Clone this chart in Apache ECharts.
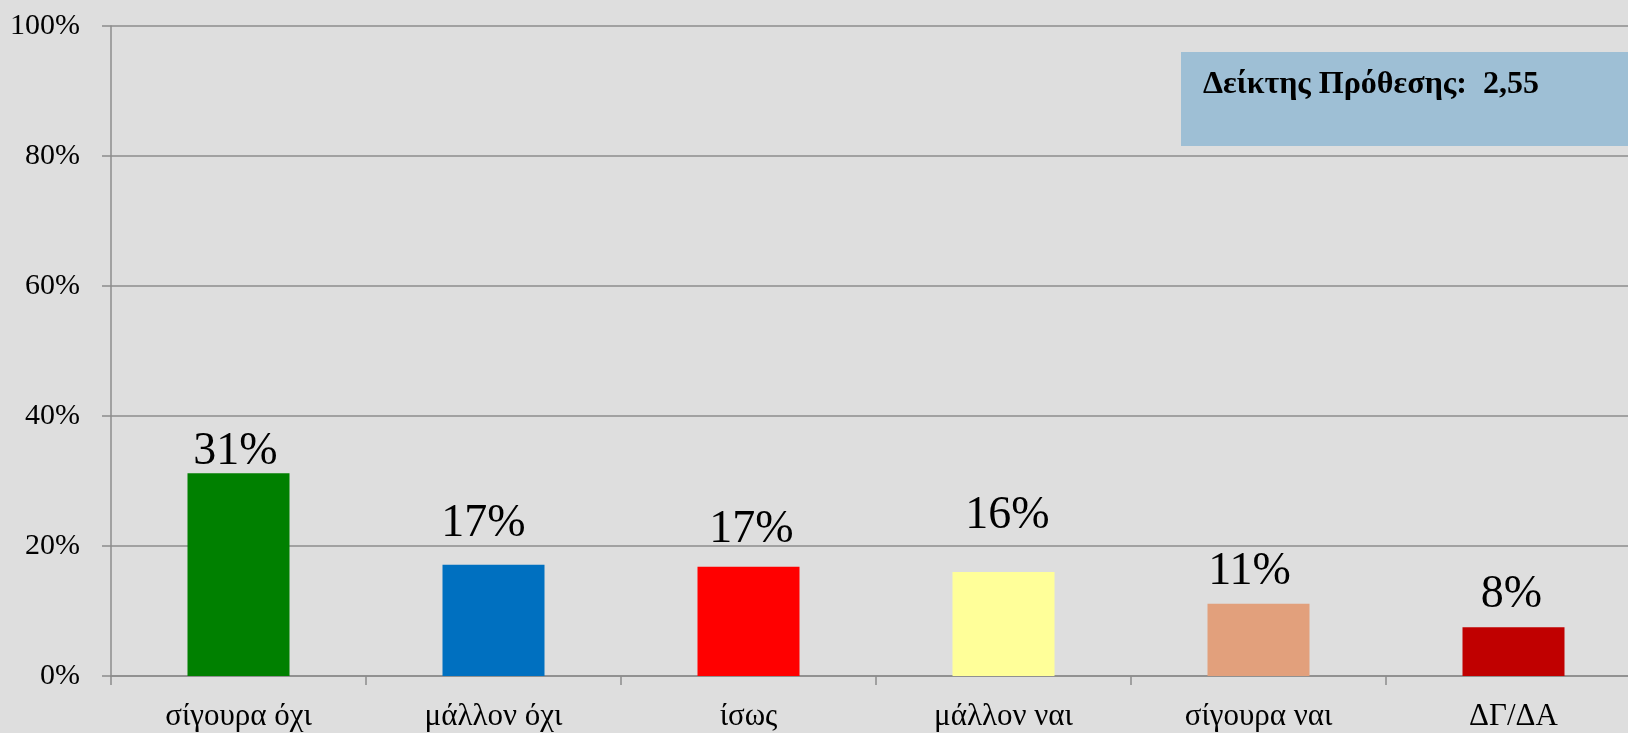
<!DOCTYPE html>
<html>
<head>
<meta charset="utf-8">
<script src="https://cdn.jsdelivr.net/npm/echarts@6/dist/echarts.min.js"></script>
<style>
  html, body { margin: 0; padding: 0; background: #dedede; }
  #chart { width: 1628px; height: 733px; }
</style>
</head>
<body>
<div id="chart"></div>
<script>
const categories = ["σίγουρα όχι", "μάλλον όχι", "ίσως", "μάλλον ναι", "σίγουρα ναι", "ΔΓ/ΔΑ"];
const shares = [31.2, 17.1, 16.8, 16.0, 11.1, 7.5];
const barColors = ["#008000", "#0070c0", "#ff0000", "#ffff99", "#e2a07c", "#c00000"];
const yTicks = [0, 20, 40, 60, 80, 100];
const indexLabel = "Δείκτης Πρόθεσης:  2,55";

// hand-placed label nudges from the original sheet [dx, dy]
const labelNudge = [[-3, 2], [-10, -18], [3, -14], [4, -33], [-9, -9], [-2, -9]];

const serif = '"Liberation Serif", "DejaVu Serif", serif';
const chart = echarts.init(document.getElementById("chart"));

chart.setOption({
  backgroundColor: "#dedede",
  animation: false,
  grid: { left: 111, right: -13, top: 26, bottom: 57, outerBoundsMode: "none" },
  xAxis: {
    type: "category",
    data: categories,
    axisLine: { lineStyle: { color: "#8c8c8c", width: 1.5 } },
    axisTick: { show: true, length: 9, lineStyle: { color: "#8c8c8c", width: 1.5 } },
    axisLabel: { color: "#000", fontFamily: serif, fontSize: 31, margin: 25 }
  },
  yAxis: {
    type: "value",
    min: yTicks[0],
    max: yTicks[yTicks.length - 1],
    interval: 20,
    axisLine: { show: true, lineStyle: { color: "#8c8c8c", width: 1.5 } },
    axisTick: { show: true, length: 9, lineStyle: { color: "#8c8c8c", width: 1.5 } },
    splitLine: { lineStyle: { color: "#8c8c8c", width: 1.5 } },
    axisLabel: { color: "#000", fontFamily: serif, fontSize: 30, margin: 31, formatter: "{value}%" }
  },
  series: [{
    type: "bar",
    barWidth: "40%",
    data: shares.map((v, i) => ({
      value: v,
      itemStyle: { color: barColors[i] },
      label: { offset: labelNudge[i] }
    })),
    label: {
      show: true,
      position: "top",
      distance: 0,
      color: "#000",
      fontFamily: serif,
      fontSize: 46,
      formatter: p => Math.round(p.value) + "%"
    }
  }],
  graphic: [{
    type: "rect",
    shape: { x: 1181, y: 52, width: 460, height: 94 },
    style: { fill: "#9ebfd5" }
  }, {
    type: "text",
    x: 1203,
    y: 101,
    style: {
      text: indexLabel,
      font: "bold 32px " + serif,
      fill: "#000",
      textVerticalAlign: "bottom"
    }
  }]
});
</script>
</body>
</html>
